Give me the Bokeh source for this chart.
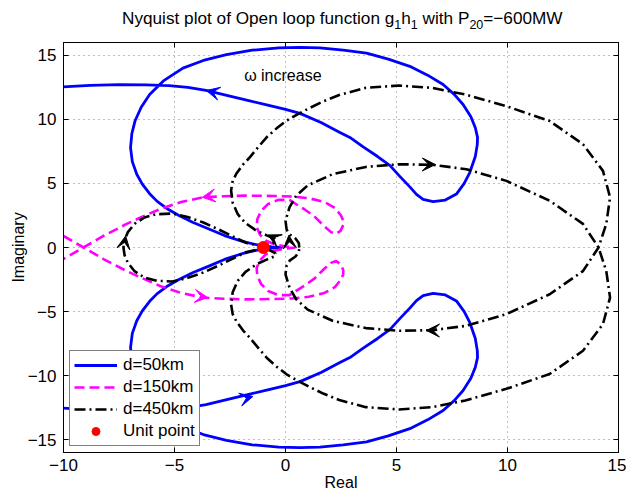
from bokeh.plotting import figure
from bokeh.layouts import column
from bokeh.models import (Range1d, FixedTicker, LinearAxis, Legend, LegendItem,
                          Arrow, VeeHead, ColumnDataSource, Label, Div)
from bokeh.embed import file_html
from bokeh.resources import INLINE

FONT = "Liberation Sans"

# Positive-frequency branch of each locus (real part, imaginary part).
# The negative-frequency branch is its complex conjugate, traversed backwards.
d50_re = [-0.18, -0.6, -1.17, -1.9, -2.75, -3.45, -4.16, -4.8, -5.35, -5.78, -6.12, -6.45,
          -6.7, -6.9, -6.98, -6.92, -6.78, -6.5, -6.12, -5.5, -4.62, -3.7, -2.66, -1.5,
          -0.3, 0.65, 1.55, 2.6, 3.65, 4.63, 5.6, 6.4, 7.1, 7.6, 8.0, 8.35, 8.55, 8.65,
          8.64, 8.55, 8.3, 8.05, 7.7, 7.2, 6.65, 6.2, 5.9, 5.61, 5.15, 4.71, 4.15, 3.5,
          2.9, 2.45, 1.6, 0.65, 0.0, -0.8, -1.61, -2.6, -3.58, -4.4, -5.24, -6.3, -7.5,
          -8.8, -10.13, -11.0]
d50_im = [0.0, 0.05, 0.16, 0.45, 0.93, 1.45, 1.95, 2.5, 3.05, 3.6, 4.2, 4.95,
          5.72, 6.7, 7.8, 8.9, 9.87, 10.95, 11.94, 13.0, 14.0, 14.6, 15.05, 15.4,
          15.58, 15.62, 15.58, 15.4, 15.17, 14.7, 14.14, 13.45, 12.72, 11.95, 11.16, 10.2, 9.35, 8.6,
          8.05, 7.1, 5.85, 5.0, 4.17, 3.7, 3.58, 3.75, 4.15, 4.71, 5.55, 6.39, 7.1, 7.85,
          8.59, 8.98, 9.75, 10.47, 10.78, 11.12, 11.44, 11.85, 12.27, 12.5, 12.64, 12.7, 12.72,
          12.65, 12.53, 12.45]

d150_re = [0.45, 0.0, -0.5, -0.9, -1.15, -1.3, -1.27, -1.1, -0.78, -0.32, 0.18, 0.55,
           0.88, 1.3, 1.75, 2.05, 2.28, 2.48, 2.6, 2.6, 2.5, 2.22, 1.75, 1.05, 0.3,
           -0.5, -1.76, -2.8, -3.7, -4.7, -5.65, -6.45, -7.2, -8.2, -9.1, -9.9, -10.6]
d150_im = [0.0, 0.08, 0.25, 0.55, 1.0, 1.6, 2.2, 2.85, 3.4, 3.72, 3.72, 3.3,
           2.95, 2.43, 1.66, 1.2, 1.06, 1.3, 1.75, 2.1, 2.5, 3.1, 3.55, 3.85, 3.98,
           4.02, 4.05, 4.0, 3.92, 3.55, 3.0, 2.4, 1.8, 0.9, 0.0, -0.8, -1.45]

d450_re = [-7.3, -7.25, -7.1, -6.8, -6.35, -5.8, -5.1, -4.45, -3.7, -3.0, -2.3, -1.75,
           -1.2, -0.7, -0.45, -0.5, -0.85, -1.3, -1.8, -2.15, -2.38, -2.45, -2.38, -2.2,
           -1.9, -1.6, -1.2, -0.85, -0.4, 0.05, 0.6, 1.1, 1.7, 2.42, 3.62, 5.11,
           6.6, 8.1, 9.95, 11.9, 13.4, 14.3, 14.62, 14.45, 14.1, 13.4, 11.9, 9.95,
           8.15, 6.65, 5.13, 3.62, 2.12, 1.0, 0.48, 0.18, 0.0, 0.05, 0.2, 0.45, 0.6, 0.62]
d450_im = [0.0, 0.6, 1.2, 1.85, 2.35, 2.6, 2.65, 2.4, 1.95, 1.4, 0.8, 0.35,
           0.15, 0.22, 0.45, 0.7, 0.95, 1.3, 1.9, 2.6, 3.5, 4.45, 5.2, 5.8,
           6.5, 7.05, 7.9, 8.6, 9.3, 9.9, 10.45, 10.9, 11.4, 11.9, 12.46, 12.64,
           12.46, 11.94, 11.03, 9.87, 8.06, 5.98, 3.91, 1.84, 0.0, -1.84, -3.65, -5.2,
           -6.11, -6.45, -6.5, -6.29, -5.72, -4.85, -4.04, -3.13, -2.1, -1.4, -1.0, -0.7, -0.35, 0.0]

unit_re = [-1.0]
unit_im = [0.0]

# direction markers: tip position and direction of travel
d50_arrow_x = [-3.56, -1.47]
d50_arrow_y = [12.25, -11.63]
d50_arrow_dx = [-1.0, 1.0]
d50_arrow_dy = [0.42, 0.42]

d150_arrow_x = [-3.75, -3.5]
d150_arrow_y = [3.92, -3.9]
d150_arrow_dx = [-1.0, 1.0]
d150_arrow_dy = [-0.24, -0.2]

d450_arrow_x = [6.75, 6.35, -7.2, -0.8, 0.15]
d450_arrow_y = [6.47, -6.47, 0.9, 0.98, 0.95]
d450_arrow_dx = [1.0, -1.0, 0.1, -0.6, -0.05]
d450_arrow_dy = [-0.02, 0.02, 1.0, 0.5, 1.0]

x_ticks = [-10, -5, 0, 5, 10, 15]
x_tick_labels = ["\u221210", "\u22125", "0", "5", "10", "15"]
y_ticks = [-15, -10, -5, 0, 5, 10, 15]
y_tick_labels = ["\u221215", "\u221210", "\u22125", "0", "5", "10", "15"]

series_names = ["d=50km", "d=150km", "d=450km", "Unit point"]

W = 626
TITLE_H = 41
PLOT_H = 493 - TITLE_H
LEFT, RIGHT, BOTTOM = 63, 8, 40
TITLE_X = 122


def full_locus(re, im):
    """Join the conjugate (negative-frequency) branch with the positive one."""
    re_neg = list(re)[::-1]
    im_neg = [-v for v in im][::-1]
    return re_neg + list(re), im_neg + list(im)


# ---- title strip above the plotting frame ----
SUB = '<span style="font-size:12.5px;position:relative;top:5px;">{}</span>'
title_html = ("Nyquist plot of Open loop function g" + SUB.format("1") + "h" + SUB.format("1")
              + " with P" + SUB.format("20") + "=\u2212600MW")
title = Div(text=title_html, width=W, height=TITLE_H, margin=0,
            styles={"font-family": FONT, "font-size": "17.2px", "color": "black",
                    "text-align": "left", "line-height": "18px", "white-space": "nowrap",
                    "box-sizing": "border-box", "padding-left": f"{TITLE_X}px",
                    "padding-top": "9px", "background": "white"})

# ---- Nyquist diagram ----
p = figure(width=W, height=PLOT_H, x_range=Range1d(-10, 15), y_range=Range1d(-16, 16),
           output_backend="svg", toolbar_location=None,
           min_border_left=LEFT, min_border_right=RIGHT, min_border_top=1, min_border_bottom=BOTTOM,
           x_axis_label="Real", y_axis_label="Imaginary",
           background_fill_color="white", border_fill_color="white")

p.outline_line_color = "black"
p.outline_line_width = 1

# axes: labelled left/bottom, tick-only top/right
for ax, ticks, labels in ((p.xaxis[0], x_ticks, x_tick_labels), (p.yaxis[0], y_ticks, y_tick_labels)):
    ax.ticker = FixedTicker(ticks=ticks)
    ax.major_label_overrides = dict(zip(ticks, labels))
    ax.major_label_text_font = FONT
    ax.major_label_text_font_size = "17px"
    ax.major_label_text_color = "black"
    ax.axis_label_text_font = FONT
    ax.axis_label_text_font_size = "16px"
    ax.axis_label_text_font_style = "normal"
    ax.axis_label_text_color = "black"
    ax.major_tick_in = 5
    ax.major_tick_out = 0
    ax.minor_tick_in = 0
    ax.minor_tick_out = 0
    ax.axis_line_color = "black"
    ax.major_tick_line_color = "black"
p.xaxis.major_label_standoff = 6
p.xaxis.axis_label_standoff = 0
p.yaxis.major_label_standoff = 7
p.yaxis.axis_label_standoff = -2

for side, ticks in (("above", x_ticks), ("right", y_ticks)):
    ax = LinearAxis(ticker=FixedTicker(ticks=ticks),
                    major_label_overrides={t: "" for t in ticks},
                    major_label_text_font_size="0px", major_label_standoff=0,
                    major_tick_in=5, major_tick_out=0, minor_tick_in=0, minor_tick_out=0,
                    axis_line_color="black", major_tick_line_color="black")
    p.add_layout(ax, side)

p.xgrid.ticker = FixedTicker(ticks=x_ticks)
p.ygrid.ticker = FixedTicker(ticks=y_ticks)
for g in (p.xgrid[0], p.ygrid[0]):
    g.grid_line_color = "#808080"
    g.grid_line_dash = "1 4"
    g.grid_line_width = 1

# loci
bx, by = full_locus(d50_re, d50_im)
mx, my = full_locus(d150_re, d150_im)
kx, ky = full_locus(d450_re, d450_im)

r50 = p.line(bx, by, line_color="#0000ff", line_width=2.8, line_join="round")
r150 = p.line(mx, my, line_color="#ff00ff", line_width=2.6, line_dash="10 5")
r450 = p.line(kx, ky, line_color="black", line_width=2.6, line_dash="11 4 2 4")
runit = p.scatter(unit_re, unit_im, size=12, marker="circle", fill_color="#ff0000", line_color="#ff0000")


def add_arrows(xs, ys, dxs, dys, color):
    k = 0.05
    src = ColumnDataSource(dict(
        xs=[x - k * dx for x, dx in zip(xs, dxs)],
        ys=[y - k * dy for y, dy in zip(ys, dys)],
        xe=list(xs), ye=list(ys)))
    head = VeeHead(size=13, fill_color=color, line_color=color, line_width=1)
    p.add_layout(Arrow(end=head, source=src, x_start="xs", y_start="ys",
                       x_end="xe", y_end="ye", line_alpha=0, line_width=0))


add_arrows(d50_arrow_x, d50_arrow_y, d50_arrow_dx, d50_arrow_dy, "#0000ff")
add_arrows(d150_arrow_x, d150_arrow_y, d150_arrow_dx, d150_arrow_dy, "#ff00ff")
add_arrows(d450_arrow_x, d450_arrow_y, d450_arrow_dx, d450_arrow_dy, "black")

p.add_layout(Label(x=-0.12, y=13.44, text="\u03c9 increase", text_align="center",
                   text_baseline="middle", text_font=FONT, text_font_size="16px",
                   text_color="black"))

legend = Legend(items=[LegendItem(label=n, renderers=[r]) for n, r in
                       zip(series_names, [r50, r150, r450, runit])],
                location=(6, 6))
legend.label_text_font = FONT
legend.label_text_font_size = "17px"
legend.label_text_color = "black"
legend.glyph_width = 43
legend.glyph_height = 20
legend.label_height = 20
legend.label_standoff = 6
legend.spacing = 2
legend.padding = 4
legend.margin = 0
legend.border_line_color = "black"
legend.border_line_width = 1
legend.background_fill_color = "white"
legend.background_fill_alpha = 1.0
p.add_layout(legend)

page = column(title, p, spacing=0)
open("out.html", "w").write(file_html(page, INLINE))
